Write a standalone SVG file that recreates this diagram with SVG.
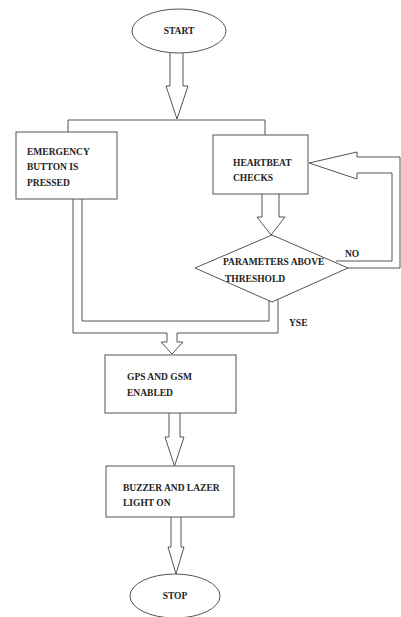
<svg xmlns="http://www.w3.org/2000/svg" width="401" height="617" viewBox="0 0 401 617">
<style>
.s{fill:#fff;stroke:#555;stroke-width:1}
.l{fill:none;stroke:#555;stroke-width:1}
text{font-family:"Liberation Serif","Times New Roman",serif;font-weight:bold;font-size:9.5px;fill:#222}
</style>
<rect width="401" height="617" fill="#fff"/>
<g id="connectors">
<path class="l" d="M170,53 V86 H166 L177,119 L188,86 H183 V53"/>
<path class="l" d="M68,132 V120 H265 V136"/>
<path class="l" d="M262,194 V217 H257 L271,235 L285,217 H279 V194"/>
<path class="l" d="M336,261 H392 V173 H357 V179 L309,163 L357,152 V157 H400 V268 H348"/>
<path class="l" d="M82,199 V321 H269 V300"/>
<path class="l" d="M73,199 V333 H167 V342 H161 L172,354 L183,342 H177 V333 H278 V298"/>
<path class="l" d="M169,413 V437 H165 L174.5,466 L184,437 H180 V413"/>
<path class="l" d="M171,517 V547 H168 L176,574 L184,547 H181 V517"/>
</g>
<g id="start"><ellipse class="s" cx="179" cy="31" rx="47" ry="22"/><text x="179" y="34" text-anchor="middle">START</text></g>
<g id="emergency"><rect class="s" x="16" y="132" width="101" height="67"/><text x="27" y="155">EMERGENCY</text><text x="27" y="170">BUTTON IS</text><text x="27" y="186">PRESSED</text></g>
<g id="heartbeat"><rect class="s" x="213" y="135" width="95" height="59"/><text x="233" y="166">HEARTBEAT</text><text x="233" y="181">CHECKS</text></g>
<g id="decision"><polygon class="s" points="272,235 348,268 272,302 195,268"/><text x="223" y="265">PARAMETERS ABOVE</text><text x="225" y="282">THRESHOLD</text></g>
<g id="labels"><text x="345" y="257">NO</text><text x="289" y="326">YSE</text></g>
<g id="gps"><rect class="s" x="105" y="355" width="131" height="58"/><text x="127" y="380">GPS AND GSM</text><text x="127" y="396">ENABLED</text></g>
<g id="buzzer"><rect class="s" x="106" y="466" width="128" height="51"/><text x="123" y="491">BUZZER AND LAZER</text><text x="123" y="506">LIGHT ON</text></g>
<g id="stop"><ellipse class="s" cx="175" cy="596" rx="45" ry="22"/><text x="175" y="599" text-anchor="middle">STOP</text></g>
</svg>
